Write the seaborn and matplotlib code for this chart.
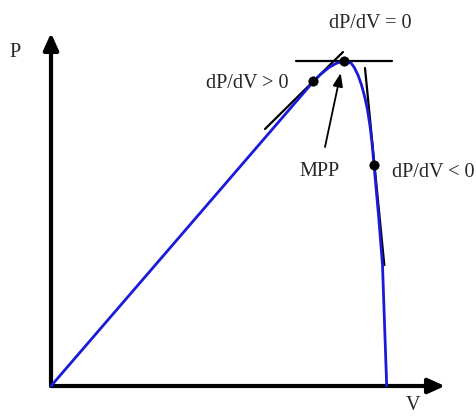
import matplotlib
matplotlib.use("Agg")
import matplotlib.pyplot as plt
import seaborn as sns
import pandas as pd

sns.set_style("white")
plt.rcParams['font.family'] = ['Liberation Serif', 'DejaVu Serif']

# P-V curve (arbitrary units)
curve_v = [0, 100, 200, 250, 262, 270, 278, 285, 292.5, 300, 303, 307, 310.5, 314,
           316.5, 319, 321, 323, 327.5, 331.5, 333.3, 335.7]
curve_p = [0, 116, 232, 290, 304, 312, 318.5, 322.5, 325, 323, 319, 311, 301, 288,
           276, 260, 243, 221, 171, 121, 69, 0]

# marked operating points
dot_v = [262, 292.5, 323]
dot_p = [305, 325, 221]

# tangent segments
tan_left_v = [214, 292]
tan_left_p = [257, 334]
tan_top_v = [245, 341]
tan_top_p = [325, 325]
tan_right_v = [314, 333.3]
tan_right_p = [318, 121]

labels = ["dP/dV = 0", "dP/dV > 0", "MPP", "dP/dV < 0"]

fig = plt.figure(figsize=(4.76, 4.17), dpi=100)
ax = fig.add_axes([0, 0, 1, 1])
ax.set_xlim(-51, 425)
ax.set_ylim(-31, 386)
ax.axis("off")

# axes with arrows
x_end, y_end = 394, 353
ax.annotate("", xy=(x_end, 0), xytext=(0, 0),
            arrowprops=dict(arrowstyle="-|>,head_length=1.0,head_width=0.45", lw=3, color="black",
                            shrinkA=0, shrinkB=0))
ax.annotate("", xy=(0, y_end), xytext=(0, 0),
            arrowprops=dict(arrowstyle="-|>,head_length=1.0,head_width=0.45", lw=3, color="black",
                            shrinkA=0, shrinkB=0))

df = pd.DataFrame({"V": curve_v, "P": curve_p})
sns.lineplot(data=df, x="V", y="P", sort=False, ax=ax, color="#1a1ad8", lw=2, zorder=3)

for tv, tp in [(tan_left_v, tan_left_p), (tan_top_v, tan_top_p), (tan_right_v, tan_right_p)]:
    sns.lineplot(x=tv, y=tp, sort=False, ax=ax, color="black", lw=1.6, zorder=2)

sns.scatterplot(x=dot_v, y=dot_p, ax=ax, color="black", s=45, zorder=4, edgecolor="black")

fs = 14.5
ax.text(-36, 334, "P", fontsize=fs, ha="center", va="center")
ax.text(362, -20, "V", fontsize=fs, ha="center", va="center")
ax.text(319, 363, labels[0], fontsize=fs, ha="center", va="center")
ax.text(196, 303, labels[1], fontsize=fs, ha="center", va="center")
ax.text(268, 215, labels[2], fontsize=fs, ha="center", va="center")
ax.text(341, 214, labels[3], fontsize=fs, ha="left", va="center")

ax.annotate("", xy=(289.7, 313), xytext=(274, 239),
            arrowprops=dict(arrowstyle="-|>,head_length=0.8,head_width=0.3", lw=1.3, color="black",
                            shrinkA=0, shrinkB=0))

fig.savefig("out.png", dpi=100)
